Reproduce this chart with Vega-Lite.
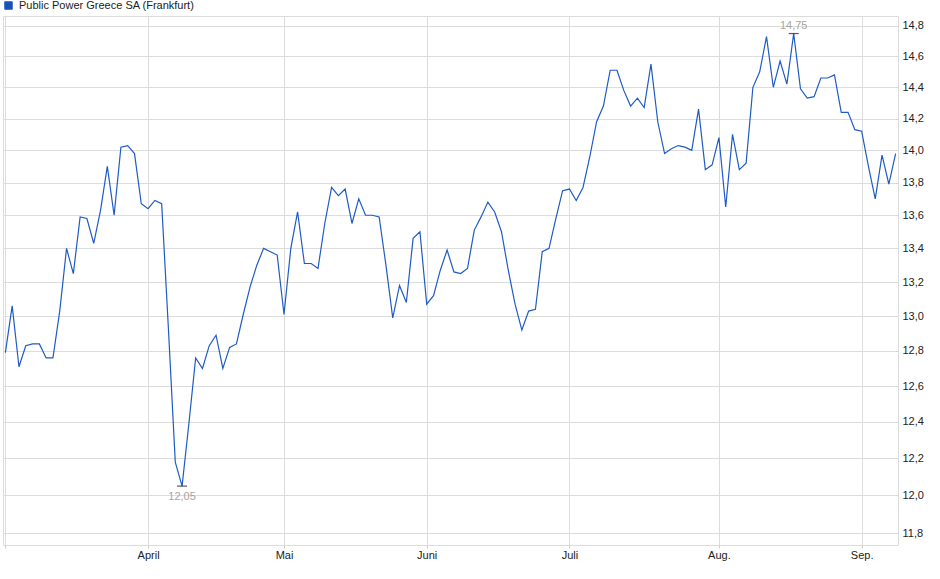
{
  "$schema": "https://vega.github.io/schema/vega-lite/v6.json",
  "autosize": "none",
  "padding": {"left": 3, "top": 16, "right": 42, "bottom": 34},
  "width": 895,
  "height": 529,
  "background": "white",
  "config": {
    "font": "Liberation Sans",
    "view": {"stroke": "#dcdcdc", "strokeWidth": 1},
    "axis": {
      "gridColor": "#dcdcdc",
      "gridWidth": 1,
      "labelFontSize": 11,
      "labelColor": "#222222",
      "labelFont": "Liberation Sans",
      "domain": false,
      "title": null
    }
  },
  "datasets": {
    "kurs": [
      {"date": "2025-03-03", "price": 12.79},
      {"date": "2025-03-04", "price": 13.06},
      {"date": "2025-03-05", "price": 12.71},
      {"date": "2025-03-06", "price": 12.83},
      {"date": "2025-03-07", "price": 12.84},
      {"date": "2025-03-10", "price": 12.84},
      {"date": "2025-03-11", "price": 12.76},
      {"date": "2025-03-12", "price": 12.76},
      {"date": "2025-03-13", "price": 13.03},
      {"date": "2025-03-14", "price": 13.40},
      {"date": "2025-03-17", "price": 13.25},
      {"date": "2025-03-18", "price": 13.59},
      {"date": "2025-03-19", "price": 13.58},
      {"date": "2025-03-20", "price": 13.43},
      {"date": "2025-03-21", "price": 13.63},
      {"date": "2025-03-24", "price": 13.90},
      {"date": "2025-03-25", "price": 13.60},
      {"date": "2025-03-26", "price": 14.02},
      {"date": "2025-03-27", "price": 14.03},
      {"date": "2025-03-28", "price": 13.98},
      {"date": "2025-03-31", "price": 13.67},
      {"date": "2025-04-01", "price": 13.64},
      {"date": "2025-04-02", "price": 13.69},
      {"date": "2025-04-03", "price": 13.67},
      {"date": "2025-04-04", "price": 12.92},
      {"date": "2025-04-07", "price": 12.18},
      {"date": "2025-04-08", "price": 12.05},
      {"date": "2025-04-09", "price": 12.39},
      {"date": "2025-04-10", "price": 12.76},
      {"date": "2025-04-11", "price": 12.70},
      {"date": "2025-04-14", "price": 12.83},
      {"date": "2025-04-15", "price": 12.89},
      {"date": "2025-04-16", "price": 12.70},
      {"date": "2025-04-17", "price": 12.82},
      {"date": "2025-04-22", "price": 12.84},
      {"date": "2025-04-23", "price": 13.01},
      {"date": "2025-04-24", "price": 13.17},
      {"date": "2025-04-25", "price": 13.30},
      {"date": "2025-04-28", "price": 13.40},
      {"date": "2025-04-29", "price": 13.38},
      {"date": "2025-04-30", "price": 13.36},
      {"date": "2025-05-02", "price": 13.01},
      {"date": "2025-05-05", "price": 13.40},
      {"date": "2025-05-06", "price": 13.62},
      {"date": "2025-05-07", "price": 13.31},
      {"date": "2025-05-08", "price": 13.31},
      {"date": "2025-05-09", "price": 13.28},
      {"date": "2025-05-12", "price": 13.55},
      {"date": "2025-05-13", "price": 13.77},
      {"date": "2025-05-14", "price": 13.72},
      {"date": "2025-05-15", "price": 13.76},
      {"date": "2025-05-16", "price": 13.55},
      {"date": "2025-05-19", "price": 13.70},
      {"date": "2025-05-20", "price": 13.60},
      {"date": "2025-05-21", "price": 13.60},
      {"date": "2025-05-22", "price": 13.59},
      {"date": "2025-05-23", "price": 13.30},
      {"date": "2025-05-26", "price": 12.99},
      {"date": "2025-05-27", "price": 13.18},
      {"date": "2025-05-28", "price": 13.08},
      {"date": "2025-05-29", "price": 13.46},
      {"date": "2025-05-30", "price": 13.50},
      {"date": "2025-06-02", "price": 13.07},
      {"date": "2025-06-03", "price": 13.12},
      {"date": "2025-06-04", "price": 13.27},
      {"date": "2025-06-05", "price": 13.39},
      {"date": "2025-06-06", "price": 13.26},
      {"date": "2025-06-09", "price": 13.25},
      {"date": "2025-06-10", "price": 13.28},
      {"date": "2025-06-11", "price": 13.51},
      {"date": "2025-06-12", "price": 13.59},
      {"date": "2025-06-13", "price": 13.68},
      {"date": "2025-06-16", "price": 13.62},
      {"date": "2025-06-17", "price": 13.50},
      {"date": "2025-06-18", "price": 13.27},
      {"date": "2025-06-19", "price": 13.07},
      {"date": "2025-06-20", "price": 12.92},
      {"date": "2025-06-23", "price": 13.03},
      {"date": "2025-06-24", "price": 13.04},
      {"date": "2025-06-25", "price": 13.38},
      {"date": "2025-06-26", "price": 13.40},
      {"date": "2025-06-27", "price": 13.58},
      {"date": "2025-06-30", "price": 13.75},
      {"date": "2025-07-01", "price": 13.76},
      {"date": "2025-07-02", "price": 13.69},
      {"date": "2025-07-03", "price": 13.77},
      {"date": "2025-07-07", "price": 13.96},
      {"date": "2025-07-08", "price": 14.18},
      {"date": "2025-07-09", "price": 14.28},
      {"date": "2025-07-10", "price": 14.51},
      {"date": "2025-07-11", "price": 14.51},
      {"date": "2025-07-14", "price": 14.38},
      {"date": "2025-07-15", "price": 14.28},
      {"date": "2025-07-16", "price": 14.33},
      {"date": "2025-07-17", "price": 14.27},
      {"date": "2025-07-18", "price": 14.55},
      {"date": "2025-07-21", "price": 14.18},
      {"date": "2025-07-22", "price": 13.98},
      {"date": "2025-07-23", "price": 14.01},
      {"date": "2025-07-24", "price": 14.03},
      {"date": "2025-07-25", "price": 14.02},
      {"date": "2025-07-28", "price": 14.00},
      {"date": "2025-07-29", "price": 14.26},
      {"date": "2025-07-30", "price": 13.88},
      {"date": "2025-07-31", "price": 13.91},
      {"date": "2025-08-01", "price": 14.08},
      {"date": "2025-08-04", "price": 13.65},
      {"date": "2025-08-05", "price": 14.10},
      {"date": "2025-08-06", "price": 13.88},
      {"date": "2025-08-07", "price": 13.92},
      {"date": "2025-08-08", "price": 14.40},
      {"date": "2025-08-11", "price": 14.50},
      {"date": "2025-08-12", "price": 14.73},
      {"date": "2025-08-13", "price": 14.40},
      {"date": "2025-08-14", "price": 14.57},
      {"date": "2025-08-15", "price": 14.42},
      {"date": "2025-08-18", "price": 14.75},
      {"date": "2025-08-19", "price": 14.39},
      {"date": "2025-08-20", "price": 14.33},
      {"date": "2025-08-21", "price": 14.34},
      {"date": "2025-08-22", "price": 14.46},
      {"date": "2025-08-25", "price": 14.46},
      {"date": "2025-08-26", "price": 14.48},
      {"date": "2025-08-27", "price": 14.24},
      {"date": "2025-08-28", "price": 14.24},
      {"date": "2025-08-29", "price": 14.13},
      {"date": "2025-09-01", "price": 14.12},
      {"date": "2025-09-02", "price": 13.90},
      {"date": "2025-09-03", "price": 13.70},
      {"date": "2025-09-04", "price": 13.97},
      {"date": "2025-09-05", "price": 13.79},
      {"date": "2025-09-08", "price": 13.98}
    ]
  },
  "data": {"name": "kurs"},
  "encoding": {
    "x": {
      "field": "date",
      "type": "ordinal",
      "scale": {"type": "point", "padding": 0.35},
      "axis": {
        "values": ["2025-03-03", "2025-04-01", "2025-05-02", "2025-06-02", "2025-07-01", "2025-08-01", "2025-09-01"],
        "labelExpr": "{'2025-03-03': '', '2025-04-01': 'April', '2025-05-02': 'Mai', '2025-06-02': 'Juni', '2025-07-01': 'Juli', '2025-08-01': 'Aug.', '2025-09-01': 'Sep.'}[datum.value]",
        "labelAngle": 0,
        "grid": true,
        "ticks": true,
        "tickSize": 3,
        "tickColor": "#cccccc",
        "labelPadding": 1
      }
    },
    "y": {
      "field": "price",
      "type": "quantitative",
      "scale": {"type": "log", "domain": [11.737, 14.866], "nice": false, "zero": false},
      "axis": {
        "orient": "right",
        "values": [11.8, 12.0, 12.2, 12.4, 12.6, 12.8, 13.0, 13.2, 13.4, 13.6, 13.8, 14.0, 14.2, 14.4, 14.6, 14.8],
        "labelExpr": "replace(format(datum.value, '.1f'), '.', ',')",
        "grid": true,
        "ticks": false,
        "labelPadding": 4
      }
    }
  },
  "layer": [
    {
      "mark": {"type": "line", "strokeWidth": 1.2, "interpolate": "linear"},
      "encoding": {
        "color": {
          "datum": "Public Power Greece SA (Frankfurt)",
          "scale": {"range": ["#1f5bc6"]},
          "legend": {
            "title": null,
            "orient": "none",
            "legendX": 0,
            "legendY": -16,
            "padding": 0,
            "symbolType": "square",
            "symbolSize": 56,
            "labelFontSize": 11,
            "labelColor": "#222222",
            "labelLimit": 400,
            "labelOffset": 5,
            "encode": {
              "symbols": {"update": {"fill": {"value": "#1c4fb4"}, "stroke": {"value": "#0c2c6c"}, "strokeWidth": {"value": 1}}}
            }
          }
        }
      }
    },
    {
      "transform": [
        {"joinaggregate": [{"op": "min", "field": "price", "as": "lo"}, {"op": "max", "field": "price", "as": "hi"}]},
        {"filter": "datum.price === datum.lo || datum.price === datum.hi"}
      ],
      "mark": {"type": "tick", "orient": "horizontal", "size": 10, "thickness": 1.2, "color": "#111111"}
    },
    {
      "transform": [
        {"joinaggregate": [{"op": "min", "field": "price", "as": "lo"}]},
        {"filter": "datum.price === datum.lo"},
        {"calculate": "replace(format(datum.price, '.2f'), '.', ',')", "as": "label"}
      ],
      "mark": {"type": "text", "baseline": "middle", "dy": 11, "fontSize": 11, "color": "#a9a39b"},
      "encoding": {"text": {"field": "label"}}
    },
    {
      "transform": [
        {"joinaggregate": [{"op": "max", "field": "price", "as": "hi"}]},
        {"filter": "datum.price === datum.hi"},
        {"calculate": "replace(format(datum.price, '.2f'), '.', ',')", "as": "label"}
      ],
      "mark": {"type": "text", "baseline": "middle", "dy": -8, "fontSize": 11, "color": "#a9a39b"},
      "encoding": {"text": {"field": "label"}}
    }
  ]
}
